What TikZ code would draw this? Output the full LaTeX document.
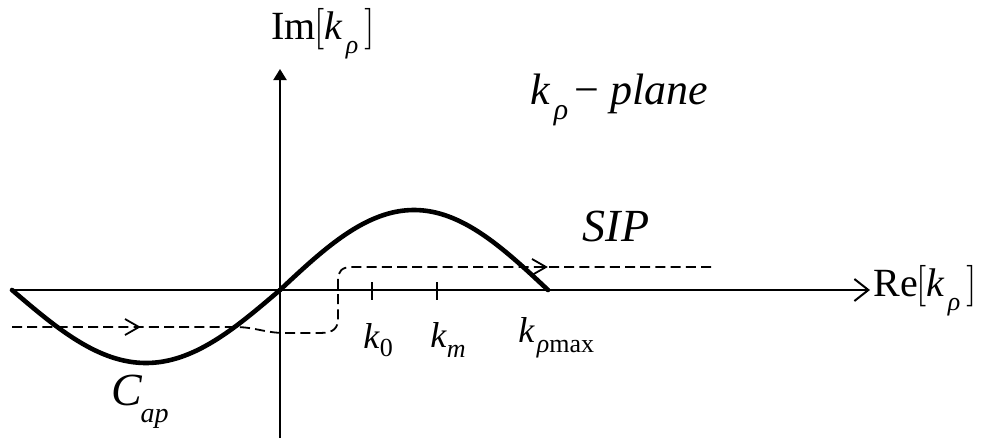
\documentclass[tikz,border=0pt]{standalone}
\usepackage{fontspec}
\setmainfont{Liberation Serif}
\usetikzlibrary{arrows.meta}
\newcommand{\krho}[1]{{\itshape k}\kern2pt\raisebox{-0.75ex}{\fontsize{#1}{#1}\selectfont\itshape ρ}}
\begin{document}
\begin{tikzpicture}[x=0.5pt,y=-0.5pt,
  axis/.style={line width=1pt},
  curve/.style={line width=2.3pt},
  dashpath/.style={line width=0.9pt,dash pattern=on 5pt off 2.6pt},
  tick/.style={line width=0.9pt},
  lbl/.style={inner sep=0pt,font=\fontsize{20}{24}\selectfont}]
\useasboundingbox (0,0) rectangle (984,439);
% axes
\coordinate (xl) at (12,290);
\coordinate (xr) at (870,290);
\coordinate (yb) at (280,438);
\coordinate (yt) at (280,69);
\draw[axis,-{Straight Barb[length=7pt,width=11pt,line width=1pt]}] (xl) -- (xr);
\draw[axis,-{Triangle[length=5.5pt,width=6.5pt]}] (yb) -- (yt);
% ticks
\coordinate (t0) at (372,290);
\coordinate (tm) at (437,290);
\draw[tick] ([yshift=4pt]t0) -- ([yshift=-5pt]t0);
\draw[tick] ([yshift=4pt]tm) -- ([yshift=-5pt]tm);
% solid contour
\draw[curve,line cap=round] plot[domain=12:280,samples=80,smooth] (\x,{290-73*sin((\x-280)/268*180)});
\draw[curve,line cap=round] plot[domain=280:548,samples=80,smooth] (\x,{290-80*sin((\x-280)/268*180)});
% dashed SIP path
\draw[dashpath] (12,327) -- (235,327) .. controls (255,327) and (265,333) .. (285,333) -- (320,333)
  .. controls (334,333) and (338,328) .. (338,318) -- (338,280)
  .. controls (338,271) and (342,267) .. (352,267) -- (712,267);
\coordinate (a1) at (139,327);
\coordinate (a2) at (546,267);
\draw[line width=0.9pt] ([shift={(-14,-8)}]a1) -- (a1) -- ([shift={(-14,8)}]a1);
\draw[line width=0.9pt] ([shift={(-14,-8)}]a2) -- (a2) -- ([shift={(-14,8)}]a2);
% labels
\node[lbl] (im) at (323,34) {Im\kern-1pt$\biggl[$\krho{13}\kern3pt$\biggr]$};
\node[lbl,anchor=west] (re) at (873,291) {Re\kern-1pt$\biggl[$\krho{13}\kern3pt$\biggr]$};
\node[lbl,anchor=west,font=\fontsize{22}{27}\selectfont] (plane) at (530,100) {\krho{15}\kern3pt − \textit{plane}};
\node[lbl,font=\fontsize{23}{28}\selectfont] (sip) at (616,226) {\textit{SIP}};
\node[lbl,font=\fontsize{18}{22}\selectfont] (k0) at (378,340) {\textit{k}\raisebox{-0.5ex}{\fontsize{13}{13}\selectfont 0}};
\node[lbl,font=\fontsize{18}{22}\selectfont] (km) at (448,340) {\textit{k}\raisebox{-0.6ex}{\fontsize{13}{13}\selectfont\itshape m}};
\node[lbl,anchor=west,font=\fontsize{18}{22}\selectfont] (kmax) at (518,338) {\textit{k}\kern1pt\raisebox{-0.6ex}{\fontsize{13}{13}\selectfont\textit{ρ}max}};
\node[lbl,font=\fontsize{23}{28}\selectfont] (cap) at (140,402) {\textit{C}\kern-1pt\raisebox{-0.8ex}{\fontsize{14}{14}\selectfont\itshape ap}};
\end{tikzpicture}
\end{document}
